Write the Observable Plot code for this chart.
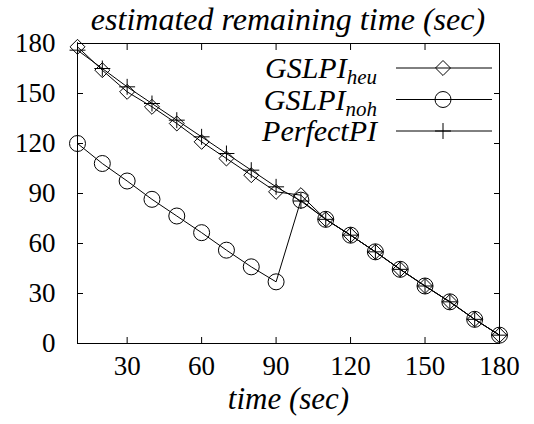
<!DOCTYPE html>
<html><head><meta charset="utf-8">
<script src="https://cdn.jsdelivr.net/npm/d3@7"></script>
<script src="https://cdn.jsdelivr.net/npm/@observablehq/plot@0.6"></script>
<style>
body{margin:0;background:#fff;}
#wrap{position:relative;width:534px;height:424px;}
#overlay{position:absolute;left:0;top:0;pointer-events:none;}
#wrap text, #wrap tspan{font-family:"Liberation Serif","Times New Roman",serif !important;}
</style></head><body><div id="wrap"></div><script>
const times   = [10,20,30,40,50,60,70,80,90,100,110,120,130,140,150,160,170,180];
const heu     = [178,164,151,142,132,121,111,101,91,89,74.5,65,55,44.5,34.5,25,14.5,5];
const noh     = [120,108,97.5,86.5,76.5,66.5,56,46,37,86,74.5,65,55,44.5,34.5,25,14.5,5];
const perfect = [176,165,154,144,134,124,114,104,94,85.5,74.5,65,55,44.5,34.5,25,14.5,5];
const xTicks = [30,60,90,120,150,180];
const yTicks = [0,30,60,90,120,150,180];
const seriesNames = [["GSLPI","heu"],["GSLPI","noh"],["PerfectPI",""]];
const seriesSymbols = ["diamond2","circle","plus"];
const seriesR = [6.75,8,5.2];
const FONT = "Liberation Serif";

const table = times.map((t,i)=>({t, heu:heu[i], noh:noh[i], perfect:perfect[i]}));
const keys = ["heu","noh","perfect"];

const marks = [];
keys.forEach((k,j)=>{
  marks.push(Plot.line(table,{x:"t",y:k,stroke:"black",strokeWidth:1}));
  marks.push(Plot.dot(table,{x:"t",y:k,symbol:()=>seriesSymbols[j],r:seriesR[j],stroke:"black",strokeWidth:1,fill:"none"}));
});

const chart = Plot.plot({
  width:534,height:424,
  marginLeft:77,marginRight:35,marginTop:43,marginBottom:81,
  style:{fontFamily:FONT,fontSize:"27px",color:"black",background:"white"},
  x:{domain:[10,180]},
  y:{domain:[0,180]},
  symbol:{type:"identity"},
  marks:[
    Plot.frame({stroke:"black",strokeWidth:1}),
    Plot.axisX({ticks:xTicks,tickSize:0,tickPadding:12,label:null,fontFamily:FONT}),
    Plot.axisX({ticks:[],tickSize:0,label:"time (sec)",labelAnchor:"center",labelOffset:65,labelArrow:"none",fontFamily:FONT,fontStyle:"italic",fontSize:31}),
    Plot.axisX({ticks:xTicks,tickSize:-6,text:null,label:null}),
    Plot.axisX({ticks:xTicks,anchor:"top",tickSize:-6,text:null,label:null}),
    Plot.axisY({ticks:yTicks,tickSize:0,tickPadding:22,label:null,fontFamily:FONT}),
    Plot.axisY({ticks:yTicks,tickSize:-6,text:null,label:null}),
    Plot.axisY({ticks:yTicks,anchor:"right",tickSize:-6,text:null,label:null}),
    ...marks
  ]
});
document.getElementById("wrap").appendChild(chart);

// overlay: title and legend
const svg = d3.select("#wrap").append("svg").attr("id","overlay")
  .attr("width",534).attr("height",424).attr("font-family",FONT);
svg.append("text").attr("x",288).attr("y",30).attr("text-anchor","middle")
  .attr("font-style","italic").attr("font-size",32).attr("fill","black")
  .text("estimated remaining time (sec)");
seriesNames.forEach((nm,i)=>{
  const y = 68 + i*31.5;
  const t = svg.append("text").attr("x",377).attr("y",y+10).attr("text-anchor","end")
    .attr("font-style","italic").attr("font-size",30).attr("fill","black");
  t.append("tspan").text(nm[0]);
  if (nm[1]) t.append("tspan").attr("font-size",21).attr("dy",6).text(nm[1]);
  svg.append("line").attr("x1",396).attr("x2",492).attr("y1",y).attr("y2",y).attr("stroke","black");
  const sym = {diamond2:d3.symbolDiamond2,circle:d3.symbolCircle,plus:d3.symbolPlus}[seriesSymbols[i]];
  svg.append("path").attr("transform",`translate(443,${y})`)
    .attr("d",d3.symbol(sym,Math.PI*seriesR[i]*seriesR[i])())
    .attr("fill","none").attr("stroke","black");
});
document.querySelectorAll("#wrap text, #wrap tspan").forEach(t=>{
  t.setAttribute("font-family", FONT);
  t.style.setProperty("font-family", '"Liberation Serif", "Times New Roman", serif', "important");
});
</script></body></html>
